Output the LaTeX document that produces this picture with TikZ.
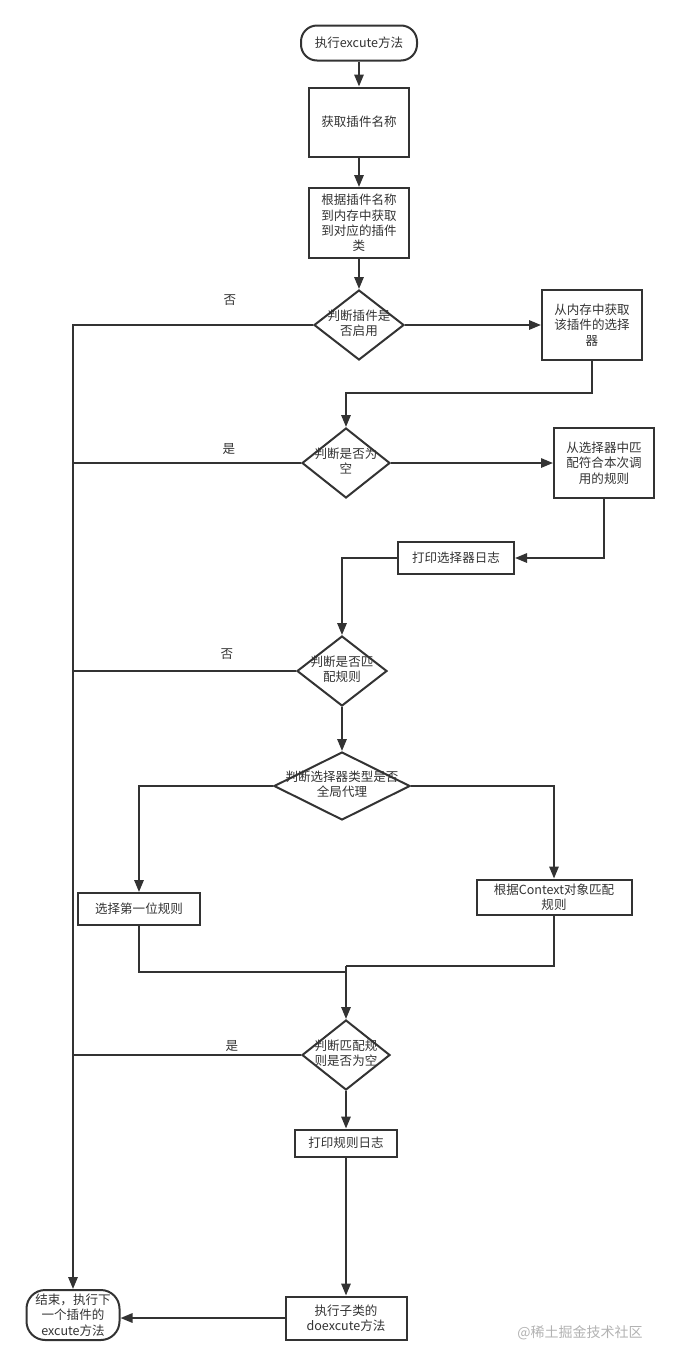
\documentclass[tikz,border=0pt]{standalone}
\usepackage{fontspec}
\setmainfont{Noto Sans CJK SC}
\usetikzlibrary{shapes.geometric,arrows.meta}
\definecolor{ln}{HTML}{333333}
\begin{document}
\begin{tikzpicture}[x=0.75pt,y=-0.75pt,
  font=\fontsize{9.4}{11.5}\selectfont,
  every node/.style={text=ln},
  box/.style={draw=ln,line width=1.5pt,rectangle,inner sep=0pt,align=center},
  term/.style={draw=ln,line width=1.5pt,rectangle,rounded corners=12pt,inner sep=0pt,align=center},
  dia/.style={draw=ln,line width=1.5pt,diamond,inner sep=0pt},
  conn/.style={draw=ln,line width=1.5pt},
  arr/.style={conn,-{Triangle[length=9pt,width=7pt]}},
  lab/.style={inner sep=0pt}]
\useasboundingbox (0,0) rectangle (678,1364);
% nodes
\node[term,minimum width=87pt,minimum height=26.25pt] (start) at (359,43) {执行excute方法};
\node[box,minimum width=75pt,minimum height=51.75pt] (b1) at (359,122) {获取插件名称};
\node[box,minimum width=75pt,minimum height=52.5pt] (b2) at (359,223) {根据插件名称\\到内存中获取\\到对应的插件\\类};
\node[dia,minimum width=67.5pt,minimum height=52.5pt,label={center:\begin{tabular}{@{}c@{}}判断插件是\\否启用\end{tabular}}] (d1) at (359,325) {};
\node[box,minimum width=75pt,minimum height=52.5pt] (b3) at (592,325) {从内存中获取\\该插件的选择\\器};
\node[dia,minimum width=66pt,minimum height=52.5pt,label={center:\begin{tabular}{@{}c@{}}判断是否为\\空\end{tabular}}] (d2) at (346,463) {};
\node[box,minimum width=75pt,minimum height=52.5pt] (b4) at (604,463) {从选择器中匹\\配符合本次调\\用的规则};
\node[box,minimum width=87pt,minimum height=24pt] (b5) at (456,558) {打印选择器日志};
\node[dia,minimum width=67.5pt,minimum height=52.5pt,label={center:\begin{tabular}{@{}c@{}}判断是否匹\\配规则\end{tabular}}] (d3) at (342,671) {};
\node[dia,minimum width=102pt,minimum height=51pt,label={center:\begin{tabular}{@{}c@{}}判断选择器类型是否\\全局代理\end{tabular}}] (d4) at (342,786) {};
\node[box,minimum width=91.5pt,minimum height=24pt] (b6) at (139,909) {选择第一位规则};
\node[box,minimum width=116.25pt,minimum height=26.25pt] (b7) at (554,897) {根据Context对象匹配\\规则};
\node[dia,minimum width=66pt,minimum height=52.5pt,label={center:\begin{tabular}{@{}c@{}}判断匹配规\\则是否为空\end{tabular}}] (d5) at (346,1055) {};
\node[box,minimum width=76.5pt,minimum height=20.25pt] (b8) at (346,1143) {打印规则日志};
\node[box,minimum width=90.75pt,minimum height=32.25pt] (b9) at (346,1318) {执行子类的\\doexcute方法};
\node[term,minimum width=69.75pt,minimum height=37.5pt,rounded corners=14pt] (end) at (73,1315) {结束，执行下\\一个插件的\\excute方法};
% labels
\node[lab] (l1) at (230,300) {否};
\node[lab] (l2) at (229,449) {是};
\node[lab] (l3) at (227,654) {否};
\node[lab] (l4) at (232,1046) {是};
\node[lab,text=gray!60,font=\fontsize{10.5}{12}\selectfont] (wm) at (580,1333) {@稀土掘金技术社区};
% merge coordinates
\coordinate (m1) at (346,972);
\coordinate (m2) at (346,966);
\coordinate (t1) at (346,393);
% connectors
\draw[arr] (start) -- (b1);
\draw[arr] (b1) -- (b2);
\draw[arr] (b2) -- (d1);
\draw[arr] (d1.west) -| (end.north);
\draw[arr] (d1.east) -- (b3.west);
\draw[arr] (b3.south) |- (t1) -- (d2.north);
\draw[conn] (d2.west) -- (d2.west -| end.north);
\draw[arr] (d2.east) -- (b4.west);
\draw[arr] (b4.south) |- (b5.east);
\draw[arr] (b5.west) -| (d3.north);
\draw[conn] (d3.west) -- (d3.west -| end.north);
\draw[arr] (d3.south) -- (d4.north);
\draw[arr] (d4.west) -| (b6.north);
\draw[arr] (d4.east) -| (b7.north);
\draw[conn] (b6.south) |- (m1);
\draw[conn] (b7.south) |- (m2);
\draw[arr] (m2) -- (d5.north);
\draw[conn] (d5.west) -- (d5.west -| end.north);
\draw[arr] (d5.south) -- (b8.north);
\draw[arr] (b8.south) -- (b9.north);
\draw[arr] (b9.west) -- (b9.west -| end.east);
\end{tikzpicture}
\end{document}
